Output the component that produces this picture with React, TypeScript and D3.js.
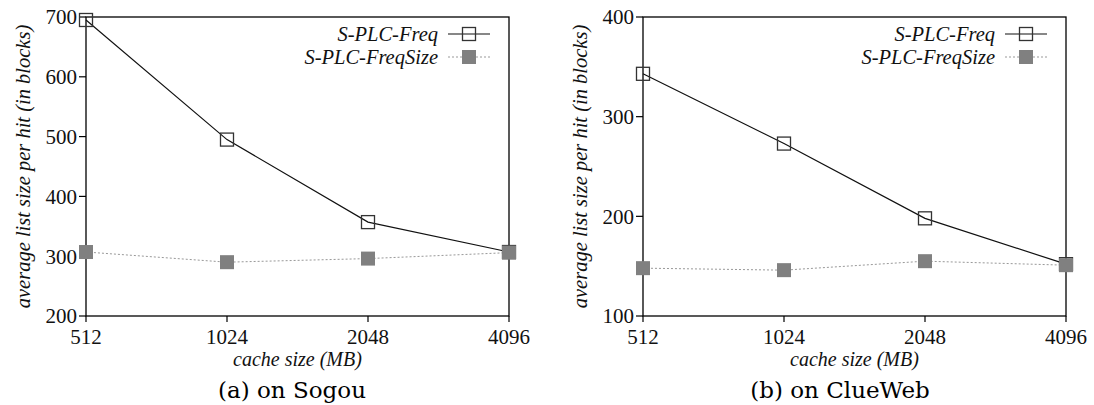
import React from "react";
import * as d3 from "d3";

const cacheSizes = ["512", "1024", "2048", "4096"];
const seriesNames = ["S-PLC-Freq", "S-PLC-FreqSize"];

const sogouFreq = [695, 495, 357, 307];
const sogouFreqSize = [307, 290, 296, 306];
const sogouTicks = [200, 300, 400, 500, 600, 700];

const clueFreq = [343, 273, 198, 152];
const clueFreqSize = [148, 146, 155, 151];
const clueTicks = [100, 200, 300, 400];

const yLabel = "average list size per hit (in blocks)";
const xLabel = "cache size (MB)";

type PanelProps = {
  left: number;
  right: number;
  top: number;
  bottom: number;
  yDomain: [number, number];
  ticks: number[];
  freq: number[];
  freqSize: number[];
  caption: string;
  captionX: number;
};

const SERIF = "'Liberation Serif'";
const CAP = "'DejaVu Serif'";

function Panel(p: PanelProps) {
  const x = d3.scalePoint<string>().domain(cacheSizes).range([p.left, p.right]);
  const y = d3.scaleLinear().domain(p.yDomain).range([p.bottom, p.top]);
  const line = d3
    .line<number>()
    .x((_, i) => x(cacheSizes[i]) as number)
    .y((d) => y(d));
  const cx = (p.left + p.right) / 2;
  const sq = 13;
  const legX = p.right - 40;
  const leg1 = p.top + 17;
  const leg2 = p.top + 40;
  const serif = { fontFamily: SERIF };
  const ital = { fontFamily: SERIF, fontStyle: "italic" as const };
  return (
    <g>
      <rect x={p.left} y={p.top} width={p.right - p.left} height={p.bottom - p.top} fill="none" stroke="#000" strokeWidth={1.3} />
      {p.ticks.map((t) => (
        <g key={"yt" + t}>
          <line x1={p.left - 7} x2={p.left} y1={y(t)} y2={y(t)} stroke="#000" strokeWidth={1.2} />
          <text x={p.left - 9} y={y(t)} dy="0.35em" textAnchor="end" style={serif} fontSize={21} fill="#111">
            {t}
          </text>
        </g>
      ))}
      {cacheSizes.map((c) => (
        <g key={"xt" + c}>
          <line x1={x(c)} x2={x(c)} y1={p.bottom} y2={p.bottom + 6} stroke="#000" strokeWidth={1.2} />
          <text x={x(c)} y={p.bottom + 28} textAnchor="middle" style={serif} fontSize={21} fill="#111">
            {c}
          </text>
        </g>
      ))}
      <path d={line(p.freq) || ""} fill="none" stroke="#111" strokeWidth={1.2} />
      {p.freq.map((v, i) => (
        <rect
          key={"f" + i}
          x={(x(cacheSizes[i]) as number) - sq / 2}
          y={y(v) - sq / 2}
          width={sq}
          height={sq}
          fill="none"
          stroke="#333"
          strokeWidth={1.3}
        />
      ))}
      <path d={line(p.freqSize) || ""} fill="none" stroke="#999" strokeWidth={1} strokeDasharray="2,2" />
      {p.freqSize.map((v, i) => (
        <rect key={"fs" + i} x={(x(cacheSizes[i]) as number) - 7} y={y(v) - 7} width={14} height={14} fill="#808080" />
      ))}
      <text x={cx} y={p.bottom + 50} textAnchor="middle" style={ital} fontSize={20} fill="#111">
        {xLabel}
      </text>
      <text
        transform={`translate(${p.left - 63},${(p.top + p.bottom) / 2}) rotate(-90)`}
        dy="0.35em"
        textAnchor="middle"
        style={ital}
        fontSize={20.5}
        fill="#111"
      >
        {yLabel}
      </text>
      <text x={p.captionX} y={p.bottom + 82} textAnchor="middle" style={{ fontFamily: CAP }} fontSize={23} fill="#000">
        {p.caption}
      </text>
      <text x={legX - 31} y={leg1} dy="0.35em" textAnchor="end" style={ital} fontSize={20.5} fill="#111">
        {seriesNames[0]}
      </text>
      <line x1={legX - 21} x2={legX + 21} y1={leg1} y2={leg1} stroke="#111" strokeWidth={1.2} />
      <rect x={legX - sq / 2} y={leg1 - sq / 2} width={sq} height={sq} fill="none" stroke="#333" strokeWidth={1.3} />
      <text x={legX - 31} y={leg2} dy="0.35em" textAnchor="end" style={ital} fontSize={20.5} fill="#111">
        {seriesNames[1]}
      </text>
      <line x1={legX - 21} x2={legX + 21} y1={leg2} y2={leg2} stroke="#999" strokeWidth={1} strokeDasharray="2,2" />
      <rect x={legX - 7} y={leg2 - 7} width={14} height={14} fill="#808080" />
    </g>
  );
}

export default function App() {
  return (
    <svg width={1094} height={405} style={{ position: "absolute", left: 0, top: 0, background: "#fff" }}>
      <rect width={1094} height={405} fill="#fff" />
      <Panel
        left={86}
        right={509}
        top={17}
        bottom={316}
        yDomain={[200, 700]}
        ticks={sogouTicks}
        freq={sogouFreq}
        freqSize={sogouFreqSize}
        caption="(a) on Sogou"
        captionX={292}
      />
      <Panel
        left={643}
        right={1066}
        top={17}
        bottom={316}
        yDomain={[100, 400]}
        ticks={clueTicks}
        freq={clueFreq}
        freqSize={clueFreqSize}
        caption="(b) on ClueWeb"
        captionX={840}
      />
    </svg>
  );
}
